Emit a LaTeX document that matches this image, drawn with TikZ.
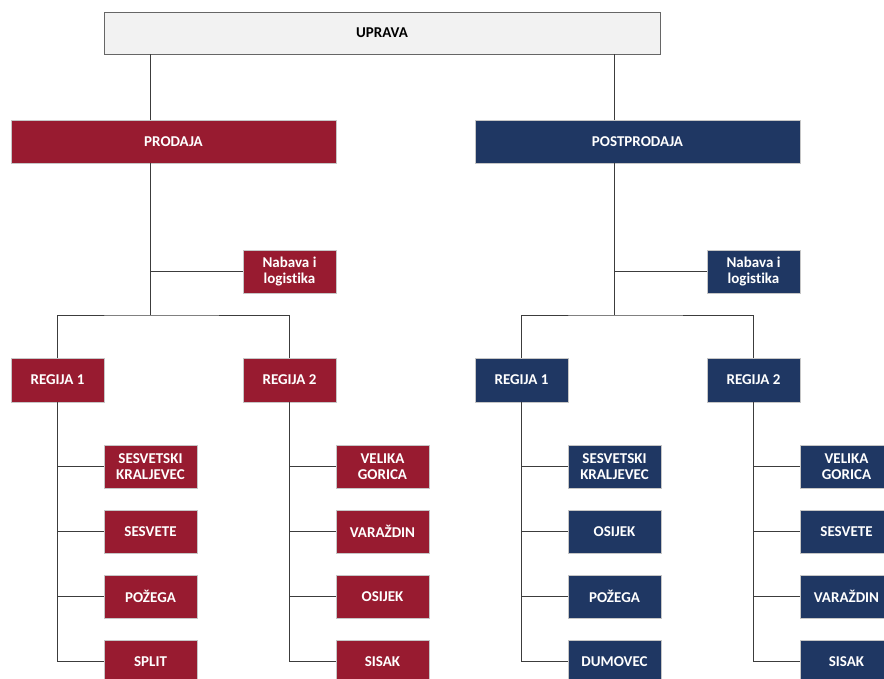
\documentclass[tikz,border=0pt]{standalone}
\usepackage{fontspec}
\setmainfont{Carlito}[Ligatures={NoCommon}]
\definecolor{redbox}{RGB}{152,27,48}
\definecolor{bluebox}{RGB}{31,55,99}
\definecolor{topbox}{RGB}{242,242,242}
\definecolor{linec}{RGB}{60,60,60}
\begin{document}
\begin{tikzpicture}[x=1pt,y=-1pt,
  box/.style={rectangle,inner sep=0pt,minimum width=93pt,minimum height=43pt,draw=gray!45,line width=0.5pt,text=white,font=\fontsize{15}{16.5}\selectfont\bfseries,align=center},
  rbox/.style={box,fill=redbox},
  bbox/.style={box,fill=bluebox},
  conn/.style={draw=linec,line width=0.8pt}]
\useasboundingbox (0,0) rectangle (884,679);
\clip (0,0) rectangle (884,679);
% top
\node[box,fill=topbox,draw=gray!80!black,text=black,minimum width=556pt,minimum height=42pt] (upr) at (382,33) {UPRAVA};
\node[rbox,minimum width=325pt] (prod) at (173.5,141.5) {PRODAJA};
\node[bbox,minimum width=325pt] (post) at (637.5,141.5) {POSTPRODAJA};
\node[rbox] (nab1) at (289.5,271.5) {Nabava i\\logistika};
\node[bbox] (nab2) at (753.5,271.5) {Nabava i\\logistika};
\node[rbox,minimum height=44pt] (r11) at (57.5,380) {REGIJA 1};
\node[rbox,minimum height=44pt] (r12) at (289.5,380) {REGIJA 2};
\node[bbox,minimum height=44pt] (r21) at (521.5,380) {REGIJA 1};
\node[bbox,minimum height=44pt] (r22) at (753.5,380) {REGIJA 2};
% leaves
\node[rbox] (a1) at (150.5,466.5) {SESVETSKI\\KRALJEVEC};
\node[rbox] (a2) at (150.5,531.5) {SESVETE};
\node[rbox] (a3) at (150.5,596.5) {POŽEGA};
\node[rbox] (a4) at (150.5,661.5) {SPLIT};
\node[rbox] (b1) at (382.5,466.5) {VELIKA\\GORICA};
\node[rbox] (b2) at (382.5,531.5) {VARAŽDIN};
\node[rbox] (b3) at (382.5,596.5) {OSIJEK};
\node[rbox] (b4) at (382.5,661.5) {SISAK};
\node[bbox] (c1) at (614.5,466.5) {SESVETSKI\\KRALJEVEC};
\node[bbox] (c2) at (614.5,531.5) {OSIJEK};
\node[bbox] (c3) at (614.5,596.5) {POŽEGA};
\node[bbox] (c4) at (614.5,661.5) {DUMOVEC};
\node[bbox] (d1) at (846.5,466.5) {VELIKA\\GORICA};
\node[bbox] (d2) at (846.5,531.5) {SESVETE};
\node[bbox] (d3) at (846.5,596.5) {VARAŽDIN};
\node[bbox] (d4) at (846.5,661.5) {SISAK};
% trunk coordinates
\coordinate (pt) at (150,315);
\coordinate (qt) at (614,315);
\path[conn] (upr.south -| pt) -- (prod.north -| pt);
\path[conn] (upr.south -| qt) -- (post.north -| qt);
\path[conn] (prod.south -| pt) -- (pt);
\path[conn] (post.south -| qt) -- (qt);
\path[conn] (pt |- nab1.west) -- (nab1.west);
\path[conn] (qt |- nab2.west) -- (nab2.west);
\path[conn] (r11.north) |- (pt) -| (r12.north);
\path[conn] (r21.north) |- (qt) -| (r22.north);
% leaf connectors
\path[conn] (r11.south) |- (a4.west);
\path[conn] (r11.south |- a1.west) -- (a1.west);
\path[conn] (r11.south |- a2.west) -- (a2.west);
\path[conn] (r11.south |- a3.west) -- (a3.west);
\path[conn] (r12.south) |- (b4.west);
\path[conn] (r12.south |- b1.west) -- (b1.west);
\path[conn] (r12.south |- b2.west) -- (b2.west);
\path[conn] (r12.south |- b3.west) -- (b3.west);
\path[conn] (r21.south) |- (c4.west);
\path[conn] (r21.south |- c1.west) -- (c1.west);
\path[conn] (r21.south |- c2.west) -- (c2.west);
\path[conn] (r21.south |- c3.west) -- (c3.west);
\path[conn] (r22.south) |- (d4.west);
\path[conn] (r22.south |- d1.west) -- (d1.west);
\path[conn] (r22.south |- d2.west) -- (d2.west);
\path[conn] (r22.south |- d3.west) -- (d3.west);
\end{tikzpicture}
\end{document}
